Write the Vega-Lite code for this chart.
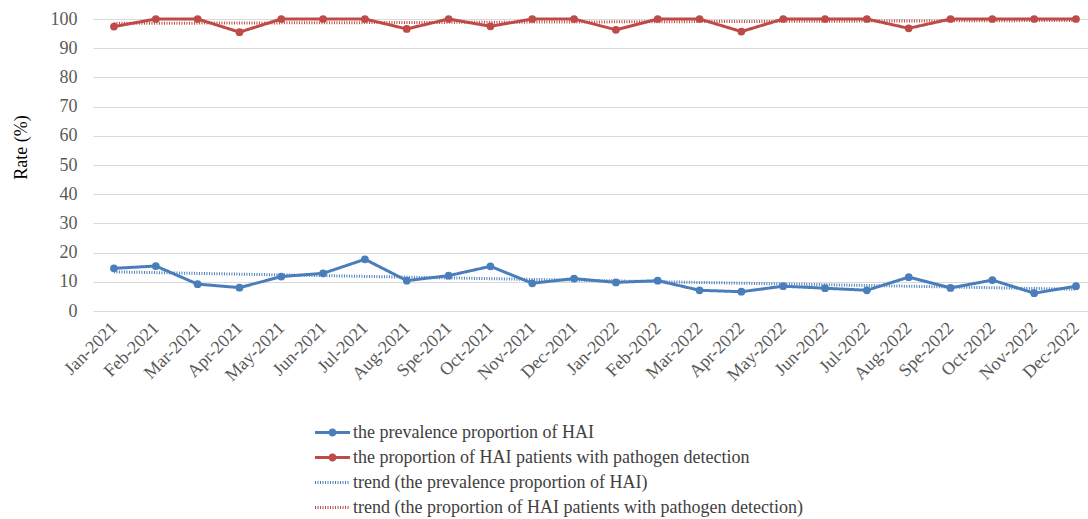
{
  "$schema": "https://vega.github.io/schema/vega-lite/v6.json",
  "autosize": "none",
  "width": 995,
  "height": 292,
  "padding": {"left": 93, "top": 19, "right": 0, "bottom": 208},
  "background": "white",
  "config": {
    "font": "Liberation Serif",
    "view": {"stroke": null},
    "axis": {"labelFont": "Liberation Serif", "titleFont": "Liberation Serif"},
    "legend": {"labelFont": "Liberation Serif"}
  },
  "datasets": {
    "main": [
      {"month": "Jan-2021", "series": "the prevalence proportion of HAI", "value": 14.6},
      {"month": "Feb-2021", "series": "the prevalence proportion of HAI", "value": 15.4},
      {"month": "Mar-2021", "series": "the prevalence proportion of HAI", "value": 9.2},
      {"month": "Apr-2021", "series": "the prevalence proportion of HAI", "value": 8.0},
      {"month": "May-2021", "series": "the prevalence proportion of HAI", "value": 11.8},
      {"month": "Jun-2021", "series": "the prevalence proportion of HAI", "value": 12.9},
      {"month": "Jul-2021", "series": "the prevalence proportion of HAI", "value": 17.7},
      {"month": "Aug-2021", "series": "the prevalence proportion of HAI", "value": 10.4},
      {"month": "Spe-2021", "series": "the prevalence proportion of HAI", "value": 12.1},
      {"month": "Oct-2021", "series": "the prevalence proportion of HAI", "value": 15.3},
      {"month": "Nov-2021", "series": "the prevalence proportion of HAI", "value": 9.5},
      {"month": "Dec-2021", "series": "the prevalence proportion of HAI", "value": 11.1},
      {"month": "Jan-2022", "series": "the prevalence proportion of HAI", "value": 9.8},
      {"month": "Feb-2022", "series": "the prevalence proportion of HAI", "value": 10.4},
      {"month": "Mar-2022", "series": "the prevalence proportion of HAI", "value": 7.1},
      {"month": "Apr-2022", "series": "the prevalence proportion of HAI", "value": 6.6},
      {"month": "May-2022", "series": "the prevalence proportion of HAI", "value": 8.5},
      {"month": "Jun-2022", "series": "the prevalence proportion of HAI", "value": 7.8},
      {"month": "Jul-2022", "series": "the prevalence proportion of HAI", "value": 7.1},
      {"month": "Aug-2022", "series": "the prevalence proportion of HAI", "value": 11.6},
      {"month": "Spe-2022", "series": "the prevalence proportion of HAI", "value": 7.9},
      {"month": "Oct-2022", "series": "the prevalence proportion of HAI", "value": 10.6},
      {"month": "Nov-2022", "series": "the prevalence proportion of HAI", "value": 6.1},
      {"month": "Dec-2022", "series": "the prevalence proportion of HAI", "value": 8.5},
      {"month": "Jan-2021", "series": "the proportion of HAI patients with pathogen detection", "value": 97.4},
      {"month": "Feb-2021", "series": "the proportion of HAI patients with pathogen detection", "value": 100},
      {"month": "Mar-2021", "series": "the proportion of HAI patients with pathogen detection", "value": 100},
      {"month": "Apr-2021", "series": "the proportion of HAI patients with pathogen detection", "value": 95.5},
      {"month": "May-2021", "series": "the proportion of HAI patients with pathogen detection", "value": 100},
      {"month": "Jun-2021", "series": "the proportion of HAI patients with pathogen detection", "value": 100},
      {"month": "Jul-2021", "series": "the proportion of HAI patients with pathogen detection", "value": 100},
      {"month": "Aug-2021", "series": "the proportion of HAI patients with pathogen detection", "value": 96.6},
      {"month": "Spe-2021", "series": "the proportion of HAI patients with pathogen detection", "value": 100},
      {"month": "Oct-2021", "series": "the proportion of HAI patients with pathogen detection", "value": 97.5},
      {"month": "Nov-2021", "series": "the proportion of HAI patients with pathogen detection", "value": 100},
      {"month": "Dec-2021", "series": "the proportion of HAI patients with pathogen detection", "value": 100},
      {"month": "Jan-2022", "series": "the proportion of HAI patients with pathogen detection", "value": 96.3},
      {"month": "Feb-2022", "series": "the proportion of HAI patients with pathogen detection", "value": 100},
      {"month": "Mar-2022", "series": "the proportion of HAI patients with pathogen detection", "value": 100},
      {"month": "Apr-2022", "series": "the proportion of HAI patients with pathogen detection", "value": 95.7},
      {"month": "May-2022", "series": "the proportion of HAI patients with pathogen detection", "value": 100},
      {"month": "Jun-2022", "series": "the proportion of HAI patients with pathogen detection", "value": 100},
      {"month": "Jul-2022", "series": "the proportion of HAI patients with pathogen detection", "value": 100},
      {"month": "Aug-2022", "series": "the proportion of HAI patients with pathogen detection", "value": 96.8},
      {"month": "Spe-2022", "series": "the proportion of HAI patients with pathogen detection", "value": 100},
      {"month": "Oct-2022", "series": "the proportion of HAI patients with pathogen detection", "value": 100},
      {"month": "Nov-2022", "series": "the proportion of HAI patients with pathogen detection", "value": 100},
      {"month": "Dec-2022", "series": "the proportion of HAI patients with pathogen detection", "value": 100}
    ],
    "trend": [
      {"month": "Jan-2021", "series": "trend (the prevalence proportion of HAI)", "value": 13.4},
      {"month": "Dec-2022", "series": "trend (the prevalence proportion of HAI)", "value": 7.45},
      {"month": "Jan-2021", "series": "trend (the proportion of HAI patients with pathogen detection)", "value": 98.5},
      {"month": "Dec-2022", "series": "trend (the proportion of HAI patients with pathogen detection)", "value": 99.5}
    ]
  },
  "encoding": {
    "x": {
      "field": "month",
      "type": "ordinal",
      "scale": {
        "type": "point",
        "padding": 0.394,
        "align": 0.636,
        "domain": ["Jan-2021","Feb-2021","Mar-2021","Apr-2021","May-2021","Jun-2021","Jul-2021","Aug-2021","Spe-2021","Oct-2021","Nov-2021","Dec-2021","Jan-2022","Feb-2022","Mar-2022","Apr-2022","May-2022","Jun-2022","Jul-2022","Aug-2022","Spe-2022","Oct-2022","Nov-2022","Dec-2022"]
      },
      "axis": {
        "title": null,
        "domain": false,
        "ticks": false,
        "grid": false,
        "labelAngle": -45,
        "labelAlign": "right",
        "labelBaseline": "middle",
        "labelPadding": 14,
        "labelFontSize": 18,
        "labelColor": "#595959"
      }
    },
    "y": {
      "field": "value",
      "type": "quantitative",
      "scale": {"domain": [0, 100], "nice": false, "zero": true},
      "axis": {
        "title": "Rate (%)",
        "titleFontSize": 18,
        "titleFontWeight": "normal",
        "titleColor": "#000000",
        "titlePadding": 20,
        "titleY": 128,
        "values": [0, 10, 20, 30, 40, 50, 60, 70, 80, 90, 100],
        "domain": false,
        "ticks": false,
        "grid": true,
        "gridColor": "#d9d9d9",
        "gridWidth": 1.2,
        "labelPadding": 16,
        "labelFontSize": 18,
        "labelColor": "#595959"
      }
    },
    "color": {
      "field": "series",
      "type": "nominal",
      "scale": {
        "domain": [
          "the prevalence proportion of HAI",
          "the proportion of HAI patients with pathogen detection",
          "trend (the prevalence proportion of HAI)",
          "trend (the proportion of HAI patients with pathogen detection)"
        ],
        "range": ["#4A7EBB", "#BE4B48", "#4A7EBB", "#BE4B48"]
      },
      "legend": {
        "title": null,
        "orient": "none",
        "legendX": 228,
        "legendY": 402,
        "direction": "vertical",
        "symbolType": "M-1.75,0L1.75,0",
        "symbolSize": 400,
        "labelFontSize": 18,
        "labelColor": "#404040",
        "labelOffset": 9,
        "rowPadding": 4,
        "labelLimit": 800,
        "encode": {
          "symbols": {
            "update": {
              "shape": {"signal": "indexof(datum.value, 'trend') == 0 ? 'M-1.75,0L1.75,0' : 'M-1.75,0L1.75,0M-0.25,0A0.25,0.25 0 1 0 0.25,0A0.25,0.25 0 1 0 -0.25,0'"}
            }
          }
        }
      }
    },
    "strokeDash": {
      "field": "series",
      "type": "nominal",
      "scale": {
        "domain": [
          "the prevalence proportion of HAI",
          "the proportion of HAI patients with pathogen detection",
          "trend (the prevalence proportion of HAI)",
          "trend (the proportion of HAI patients with pathogen detection)"
        ],
        "range": [[1, 0], [1, 0], [1, 1.5], [1, 1.5]]
      },
      "legend": null
    },
    "strokeWidth": {
      "field": "series",
      "type": "ordinal",
      "scale": {
        "domain": [
          "the prevalence proportion of HAI",
          "the proportion of HAI patients with pathogen detection",
          "trend (the prevalence proportion of HAI)",
          "trend (the proportion of HAI patients with pathogen detection)"
        ],
        "range": [3, 3, 1, 1]
      },
      "legend": null
    }
  },
  "layer": [
    {
      "data": {"name": "main"},
      "mark": {"type": "line", "point": {"filled": true, "size": 60}}
    },
    {
      "data": {"name": "trend"},
      "mark": {"type": "line"}
    }
  ]
}
